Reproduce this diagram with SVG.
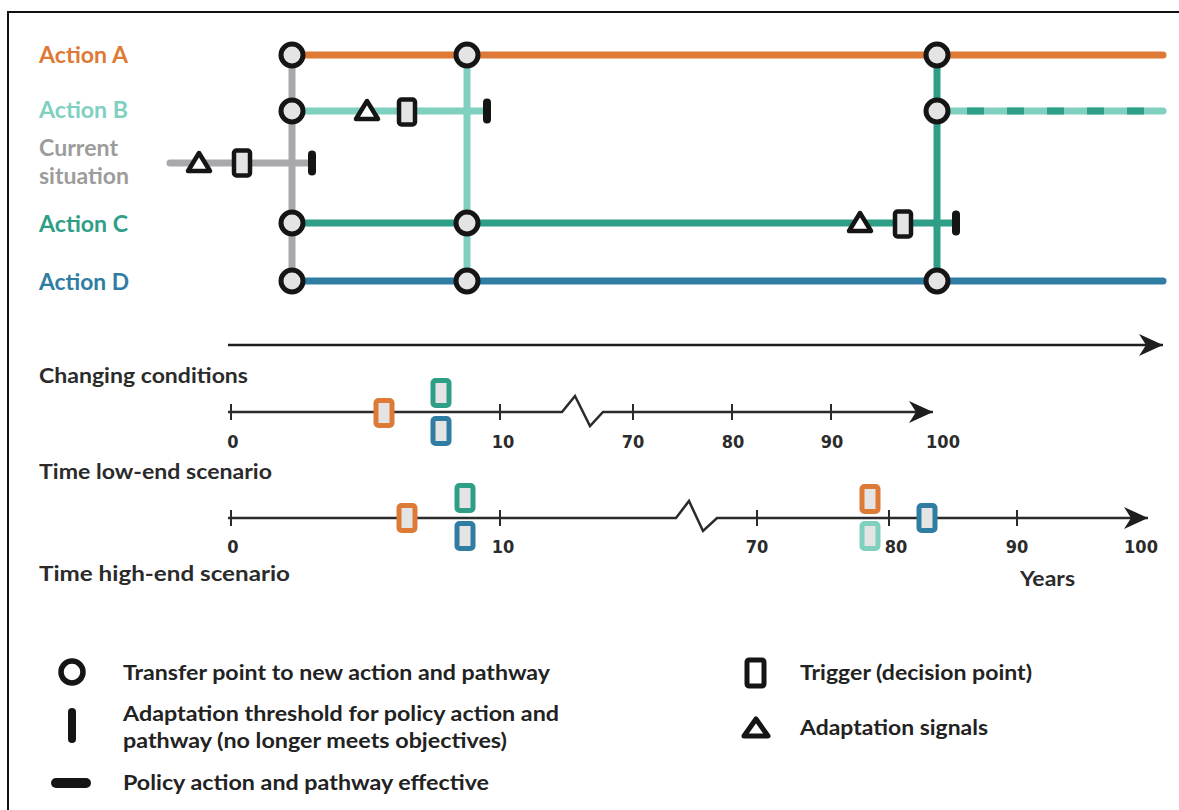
<svg xmlns="http://www.w3.org/2000/svg" width="1179" height="810" viewBox="0 0 1179 810">
<style>
.lbl{font-family:Lato,"Noto Sans",sans-serif;font-weight:bold;font-size:22px}
.sec{font-family:Lato,"Noto Sans",sans-serif;font-weight:bold;font-size:20px;fill:#2b2b2b}
.leg{font-family:Lato,"Noto Sans",sans-serif;font-weight:bold;font-size:20px;fill:#222}
.num{font-family:"DejaVu Sans Condensed","DejaVu Sans",sans-serif;font-stretch:condensed;font-weight:bold;font-size:18px;fill:#2b2b2b;text-anchor:middle}
.track{fill:none;stroke-width:7;stroke-linecap:round}
.tp{fill:#e4e4e4;stroke:#151515;stroke-width:5}
.trig{fill:#e4e4e4;stroke:#151515;stroke-width:4.5}
.sig{fill:#fff;stroke:#151515;stroke-width:4.5;stroke-linejoin:round}
.thr{fill:#151515}
.axis{fill:none;stroke:#2b2b2b;stroke-width:2.5}
.tick{stroke:#2b2b2b;stroke-width:2}
.ctrig{fill:#e4e4e4;stroke-width:5}
</style>
<defs>
<marker id="ah" markerUnits="userSpaceOnUse" markerWidth="26" markerHeight="24" refX="24" refY="12" orient="auto">
<path d="M0,1 L24,12 L0,23 L7,12 z" fill="#1e1e1e"/>
</marker>
<rect id="trg" x="-8" y="-12.5" width="16" height="25" rx="2.5"/>
<path id="tri" d="M0,-9 L11,9 L-11,9 z"/>
<rect id="bar" x="-4" y="-12.5" width="8" height="25" rx="4"/>
</defs>

<g id="frame"><line x1="8" y1="12" x2="1179" y2="12" stroke="#111" stroke-width="2"/><line x1="8" y1="11" x2="8" y2="810" stroke="#111" stroke-width="2"/></g>

<g id="labels">
<text class="lbl" x="39" y="63" fill="#DD7A36" textLength="89" lengthAdjust="spacingAndGlyphs">Action A</text>
<text class="lbl" x="39" y="118" fill="#80D0BF" textLength="89" lengthAdjust="spacingAndGlyphs">Action B</text>
<text class="lbl" x="39" y="156" fill="#9C9C9C" textLength="79" lengthAdjust="spacingAndGlyphs">Current</text>
<text class="lbl" x="39" y="184" fill="#9C9C9C" textLength="90" lengthAdjust="spacingAndGlyphs">situation</text>
<text class="lbl" x="39" y="232" fill="#2F9E87" textLength="89" lengthAdjust="spacingAndGlyphs">Action C</text>
<text class="lbl" x="39" y="290" fill="#2F7DA3" textLength="90" lengthAdjust="spacingAndGlyphs">Action D</text>
</g>

<g id="connectors">
<line class="track" x1="292" y1="55" x2="292" y2="281" stroke="#A9A9AD"/>
<line class="track" x1="467" y1="55" x2="467" y2="281" stroke="#80D0BF"/>
<line class="track" x1="937" y1="55" x2="937" y2="281" stroke="#2F9E87"/>
<line class="track" x1="292" y1="55" x2="1163" y2="55" stroke="#DD7A36"/>
<line class="track" x1="292" y1="111" x2="487" y2="111" stroke="#80D0BF"/>
<line class="track" x1="937" y1="111" x2="1163" y2="111" stroke="#80D0BF"/>
<line x1="967" y1="111" x2="1150" y2="111" stroke="#2F9E87" stroke-width="7" stroke-dasharray="17 23"/>
<line class="track" x1="170" y1="163" x2="312" y2="163" stroke="#A9A9AD"/>
<line class="track" x1="292" y1="223" x2="956" y2="223" stroke="#2F9E87"/>
<line class="track" x1="292" y1="281" x2="1163" y2="281" stroke="#2F7DA3"/>
<line x1="228" y1="345" x2="1163" y2="345" stroke="#1e1e1e" stroke-width="2.5" marker-end="url(#ah)"/>
</g>

<g id="transfer-points">
<circle class="tp" cx="292" cy="55" r="11"/>
<circle class="tp" cx="292" cy="111" r="11"/>
<circle class="tp" cx="292" cy="223" r="11"/>
<circle class="tp" cx="292" cy="281" r="11"/>
<circle class="tp" cx="467" cy="55" r="11"/>
<circle class="tp" cx="467" cy="223" r="11"/>
<circle class="tp" cx="467" cy="281" r="11"/>
<circle class="tp" cx="937" cy="55" r="11"/>
<circle class="tp" cx="937" cy="111" r="11"/>
<circle class="tp" cx="937" cy="281" r="11"/>
</g>

<g id="current-markers">
<use href="#tri" class="sig" x="199" y="162"/>
<use href="#trg" class="trig" x="242" y="163"/>
<use href="#bar" class="thr" x="312" y="163"/>
</g>
<g id="actionB-markers">
<use href="#tri" class="sig" x="367" y="110"/>
<use href="#trg" class="trig" x="407" y="112"/>
<use href="#bar" class="thr" x="487" y="111"/>
</g>
<g id="actionC-markers">
<use href="#tri" class="sig" x="860" y="222"/>
<use href="#trg" class="trig" x="903" y="224"/>
<use href="#bar" class="thr" x="956" y="223"/>
</g>

<g id="changing-conditions">
<text class="sec" x="39" y="383" textLength="209" lengthAdjust="spacingAndGlyphs">Changing conditions</text>
</g>

<g id="timeline-low">
<polyline class="axis" points="228,412 562,412 575,396 590,426 603,412 933,412" marker-end="url(#ah)"/>
<line class="tick" x1="231" y1="404" x2="231" y2="420"/>
<line class="tick" x1="500" y1="404" x2="500" y2="420"/>
<line class="tick" x1="633" y1="404" x2="633" y2="420"/>
<line class="tick" x1="732" y1="404" x2="732" y2="420"/>
<line class="tick" x1="831" y1="404" x2="831" y2="420"/>
<text class="num" x="233" y="448">0</text>
<text class="num" x="503" y="448">10</text>
<text class="num" x="633" y="448">70</text>
<text class="num" x="733" y="448">80</text>
<text class="num" x="832" y="448">90</text>
<text class="num" x="943" y="448">100</text>
<use href="#trg" class="ctrig" stroke="#DD7A36" x="384" y="413"/>
<use href="#trg" class="ctrig" stroke="#2F9E87" x="441" y="393"/>
<use href="#trg" class="ctrig" stroke="#2F7DA3" x="441" y="431"/>
<text class="sec" x="39" y="479" textLength="233" lengthAdjust="spacingAndGlyphs">Time low-end scenario</text>
</g>

<g id="timeline-high">
<polyline class="axis" points="228,518 676,518 689,501 703,531 717,518 1148,518" marker-end="url(#ah)"/>
<line class="tick" x1="231" y1="510" x2="231" y2="526"/>
<line class="tick" x1="500" y1="510" x2="500" y2="526"/>
<line class="tick" x1="757" y1="510" x2="757" y2="526"/>
<line class="tick" x1="889" y1="510" x2="889" y2="526"/>
<line class="tick" x1="1017" y1="510" x2="1017" y2="526"/>
<text class="num" x="233" y="553">0</text>
<text class="num" x="503" y="553">10</text>
<text class="num" x="757" y="553">70</text>
<text class="num" x="896" y="553">80</text>
<text class="num" x="1017" y="553">90</text>
<text class="num" x="1141" y="553">100</text>
<use href="#trg" class="ctrig" stroke="#DD7A36" x="407" y="518"/>
<use href="#trg" class="ctrig" stroke="#2F9E87" x="465" y="498"/>
<use href="#trg" class="ctrig" stroke="#2F7DA3" x="465" y="536"/>
<use href="#trg" class="ctrig" stroke="#DD7A36" x="870" y="499"/>
<use href="#trg" class="ctrig" stroke="#80D0BF" x="870" y="536"/>
<use href="#trg" class="ctrig" stroke="#2F7DA3" x="927" y="518"/>
<text class="sec" x="39" y="581" textLength="251" lengthAdjust="spacingAndGlyphs">Time high-end scenario</text>
<text class="sec" x="1020" y="586" textLength="55" lengthAdjust="spacingAndGlyphs">Years</text>
</g>

<g id="legend">
<g id="leg-transfer"><circle cx="72" cy="672" r="11" fill="#fff" stroke="#151515" stroke-width="5.5"/><text class="leg" x="123" y="680" textLength="427" lengthAdjust="spacingAndGlyphs">Transfer point to new action and pathway</text></g>
<g id="leg-threshold"><rect x="68" y="708" width="8" height="35" rx="4" fill="#151515"/><text class="leg" x="123" y="721" textLength="436" lengthAdjust="spacingAndGlyphs">Adaptation threshold for policy action and</text><text class="leg" x="123" y="748" textLength="384" lengthAdjust="spacingAndGlyphs">pathway (no longer meets objectives)</text></g>
<g id="leg-effective"><rect x="51" y="778" width="40" height="10" rx="5" fill="#151515"/><text class="leg" x="123" y="790" textLength="366" lengthAdjust="spacingAndGlyphs">Policy action and pathway effective</text></g>
<g id="leg-trigger"><rect x="747" y="660" width="17" height="26" rx="2" fill="#fff" stroke="#151515" stroke-width="5"/><text class="leg" x="800" y="680" textLength="232" lengthAdjust="spacingAndGlyphs">Trigger (decision point)</text></g>
<g id="leg-signal"><path d="M756,719 L768,736 L744,736 z" fill="#fff" stroke="#151515" stroke-width="5" stroke-linejoin="round"/><text class="leg" x="800" y="735" textLength="188" lengthAdjust="spacingAndGlyphs">Adaptation signals</text></g>
</g>
</svg>
